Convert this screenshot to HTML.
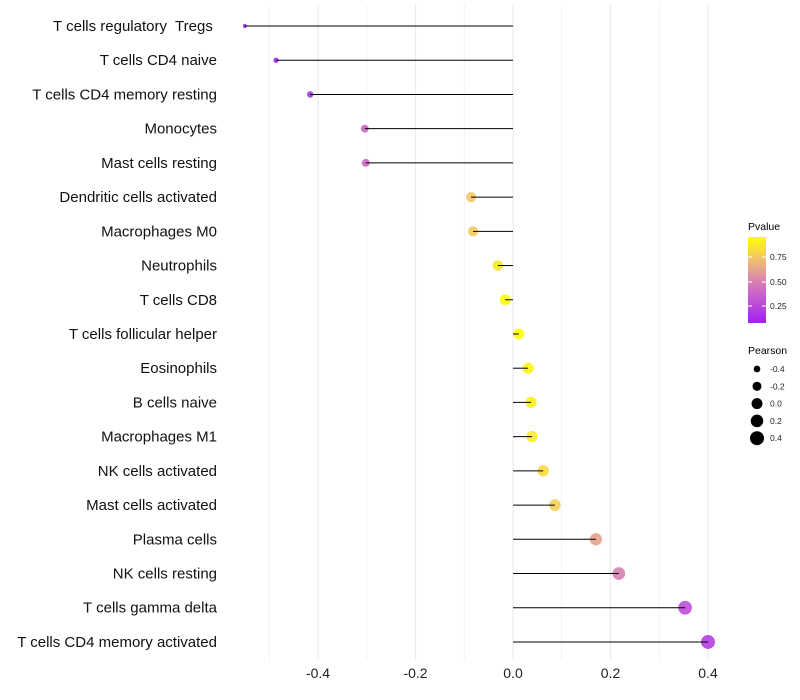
<!DOCTYPE html>
<html><head><meta charset="utf-8"><style>
body{margin:0;background:#fff;font-family:"Liberation Sans",sans-serif;}
svg{display:block}
text{white-space:pre}
</style></head><body>
<svg id="chart" width="800" height="700" xmlns="http://www.w3.org/2000/svg">
<defs><linearGradient id="pg" x1="0" y1="1" x2="0" y2="0">
<stop offset="0" stop-color="#A020F0"/><stop offset="0.3" stop-color="#C55CD0"/><stop offset="0.5" stop-color="#D985AE"/><stop offset="0.75" stop-color="#F2C46C"/><stop offset="1" stop-color="#FFFF00"/>
</linearGradient></defs>
<g id="grid"></g><g id="marks"></g><g id="labels"></g>
<g>
<text x="748" y="230" font-size="10.5">Pvalue</text>
<rect x="748" y="237" width="18" height="86" fill="url(#pg)"/>
<line x1="748" y1="257" x2="752" y2="257" stroke="#fff"/><line x1="762" y1="257" x2="766" y2="257" stroke="#fff"/>
<line x1="748" y1="282" x2="752" y2="282" stroke="#fff"/><line x1="762" y1="282" x2="766" y2="282" stroke="#fff"/>
<line x1="748" y1="306" x2="752" y2="306" stroke="#fff"/><line x1="762" y1="306" x2="766" y2="306" stroke="#fff"/>
<text x="770" y="260" font-size="8.5" fill="#222">0.75</text>
<text x="770" y="285" font-size="8.5" fill="#222">0.50</text>
<text x="770" y="309" font-size="8.5" fill="#222">0.25</text>
</g>
<g id="sizeLegend">
<text x="748" y="354" font-size="10.5">Pearson</text>
</g>
</svg>
<script>
const categories=["T cells regulatory  Tregs ","T cells CD4 naive","T cells CD4 memory resting","Monocytes","Mast cells resting","Dendritic cells activated","Macrophages M0","Neutrophils","T cells CD8","T cells follicular helper","Eosinophils","B cells naive","Macrophages M1","NK cells activated","Mast cells activated","Plasma cells","NK cells resting","T cells gamma delta","T cells CD4 memory activated"];
const pearson=[-0.55,-0.486,-0.416,-0.304,-0.302,-0.086,-0.082,-0.031,-0.016,0.012,0.031,0.037,0.039,0.062,0.086,0.170,0.217,0.353,0.400];
const pvalue=[0.08,0.10,0.15,0.38,0.38,0.74,0.76,0.86,0.93,0.95,0.91,0.89,0.89,0.82,0.77,0.62,0.50,0.28,0.22];
const xTicks=[-0.4,-0.2,0,0.2,0.4];
const sizeLegend=[-0.4,-0.2,0.0,0.2,0.4];
const NS="http://www.w3.org/2000/svg";
const x=v=>513+v*487.5;
const y=i=>26+i*34.22;
const r=v=>Math.sqrt(Math.max(3,30+47.4*v));
function col(p){
 const t=Math.min(1,Math.max(0,(p-0.077)/(0.95-0.077)));
 const s=[[0,[160,32,240]],[0.3,[197,92,208]],[0.5,[217,133,174]],[0.75,[242,196,108]],[1,[255,255,0]]];
 for(let k=1;k<s.length;k++){if(t<=s[k][0]){const a=s[k-1],b=s[k],f=(t-a[0])/(b[0]-a[0]);
  return "rgb("+a[1].map((c,j)=>Math.round(c+(b[1][j]-c)*f)).join(",")+")";}}
 return "rgb(255,255,0)";
}
function mk(t,a,p){const e=document.createElementNS(NS,t);for(const k in a)e.setAttribute(k,a[k]);p.appendChild(e);return e;}
const grid=document.getElementById('grid'),marks=document.getElementById('marks'),labels=document.getElementById('labels');
for(let v=-0.5;v<=0.41;v+=0.1){
 const g=mk('line',{x1:x(v),x2:x(v),y1:5,y2:660,stroke:'#ebebeb','stroke-width':Math.abs(Math.round(v*10))%2===0?1.1:0.6},grid);
 
 
}
xTicks.forEach(v=>{
 const t=mk('text',{x:x(v),y:678,'font-size':14,'text-anchor':'middle',fill:'#222'},labels);
 t.textContent=v===0?"0.0":v.toFixed(1);
 
 
});
categories.forEach((c,i)=>{
 const t=mk('text',{x:217,y:y(i)+5,'font-size':15,'text-anchor':'end',fill:'#111'},labels);
 t.textContent=c;
 
 
 const d=mk('circle',{cx:x(pearson[i]),cy:y(i),r:r(pearson[i]),fill:col(pvalue[i]),'fill-opacity':0.9},marks);
 
 
 const l=mk('line',{x1:x(0),x2:x(pearson[i]),y1:y(i),y2:y(i),stroke:'#000','stroke-width':1},marks);
 
 
});
const sl=document.getElementById('sizeLegend');
sizeLegend.forEach((v,k)=>{
 const cy=369+k*17.3;
 const c=mk('circle',{cx:757,cy:cy,r:r(v),fill:'#000'},sl);
 
 
 const t=mk('text',{x:770,y:cy+3,'font-size':8.5,fill:'#222'},sl);
 t.textContent=v.toFixed(1);
 
 
});
</script>
</body></html>
